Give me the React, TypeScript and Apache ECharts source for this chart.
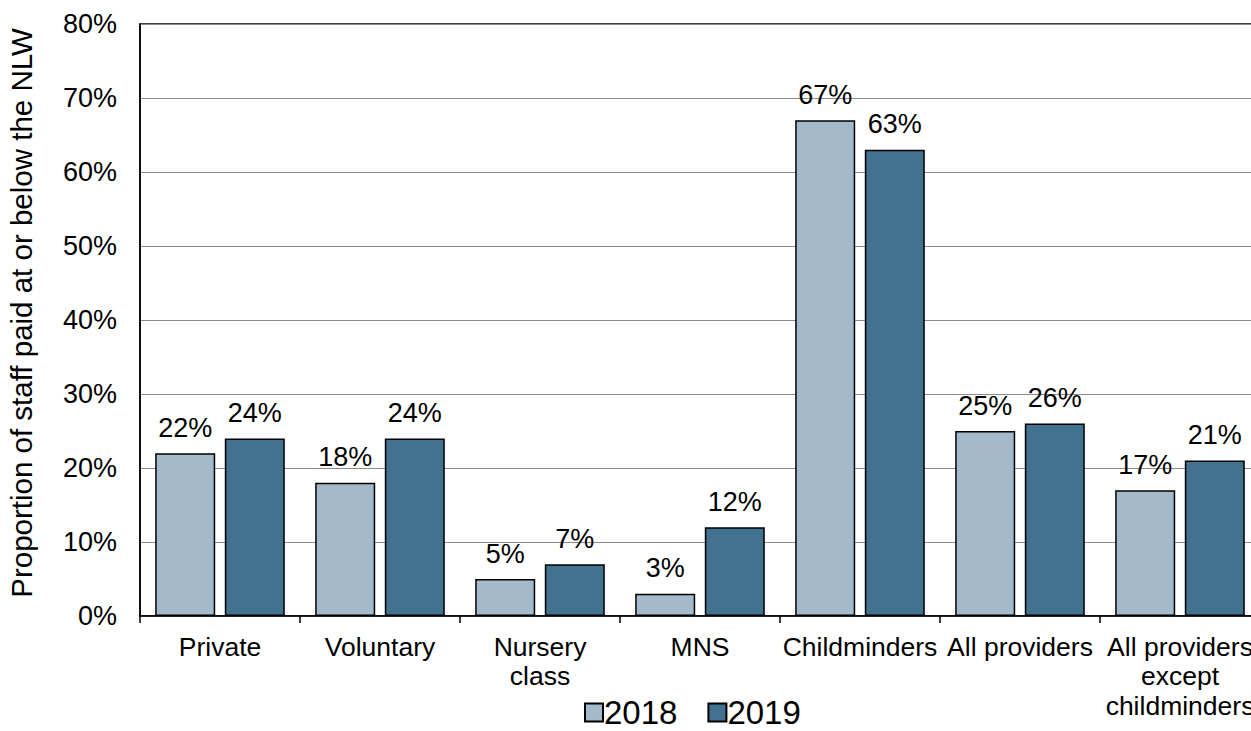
import React, { useEffect, useRef } from "react";
import * as echarts from "echarts";

const categories = ["Private", "Voluntary", "Nursery\nclass", "MNS", "Childminders", "All providers", "All providers\nexcept\nchildminders"];
const values2018 = [22, 18, 5, 3, 67, 25, 17];
const values2019 = [24, 24, 7, 12, 63, 26, 21];
const seriesNames = ["2018", "2019"];
const yTicks = [0, 10, 20, 30, 40, 50, 60, 70, 80];

export default function App() {
  const ref = useRef<HTMLDivElement>(null);
  useEffect(() => {
    if (!ref.current) return;
    const chart = echarts.init(ref.current, undefined, { renderer: "svg" });
    const font = "Arial, 'Liberation Sans', sans-serif";
    const label = {
      show: true,
      position: "top" as const,
      distance: 12,
      formatter: "{c}%",
      fontSize: 27,
      color: "#000",
      fontFamily: font,
    };
    chart.setOption({
      animation: false,
      backgroundColor: "#fff",
      grid: {
        left: 140,
        top: 24,
        bottom: 115,
        right: -9,
        show: true,
        borderColor: "#000",
        borderWidth: 1.5,
        containLabel: false,
        outerBoundsMode: "none",
      },
      legend: {
        data: seriesNames,
        top: 696,
        left: 584,
        padding: 0,
        itemWidth: 18,
        itemHeight: 18,
        itemGap: 30,
        textStyle: { fontSize: 33, color: "#000", fontFamily: font, padding: [0, 0, 0, -4] },
        icon: "rect",
      },
      xAxis: {
        type: "category",
        data: categories,
        axisLine: { lineStyle: { color: "#000", width: 1.5 } },
        axisTick: { show: true, alignWithLabel: false, length: 7, lineStyle: { color: "#000", width: 1.5 } },
        axisLabel: { fontSize: 26.5, color: "#000", fontFamily: font, margin: 16, lineHeight: 29.5, interval: 0, hideOverlap: false },
      },
      yAxis: {
        type: "value",
        min: 0,
        max: 80,
        interval: 10,
        name: "Proportion of staff paid at or below the NLW",
        nameLocation: "middle",
        nameGap: 104,
        nameTextStyle: { fontSize: 29.5, color: "#000", fontFamily: font, padding: [0, 0, 0, 14] },
        axisLine: { show: true, lineStyle: { color: "#000", width: 1.5 } },
        axisTick: { show: false },
        axisLabel: {
          fontSize: 27,
          color: "#000",
          fontFamily: font,
          margin: 23,
          formatter: (v: number) => (yTicks.includes(v) ? v + "%" : ""),
        },
        splitLine: { lineStyle: { color: "#8c8c8c", width: 1 } },
      },
      series: [
        {
          name: seriesNames[0],
          type: "bar",
          data: values2018,
          barWidth: 60,
          barGap: "16%",
          itemStyle: { color: "#A4B9CA", borderColor: "#000", borderWidth: 1.5 },
          label,
        },
        {
          name: seriesNames[1],
          type: "bar",
          data: values2019,
          barWidth: 60,
          itemStyle: { color: "#41728F", borderColor: "#000", borderWidth: 1.5 },
          label,
        },
      ],
    });
    return () => chart.dispose();
  }, []);
  return <div ref={ref} style={{ width: 1251, height: 731, position: "absolute", left: 0, top: 0 }} />;
}
